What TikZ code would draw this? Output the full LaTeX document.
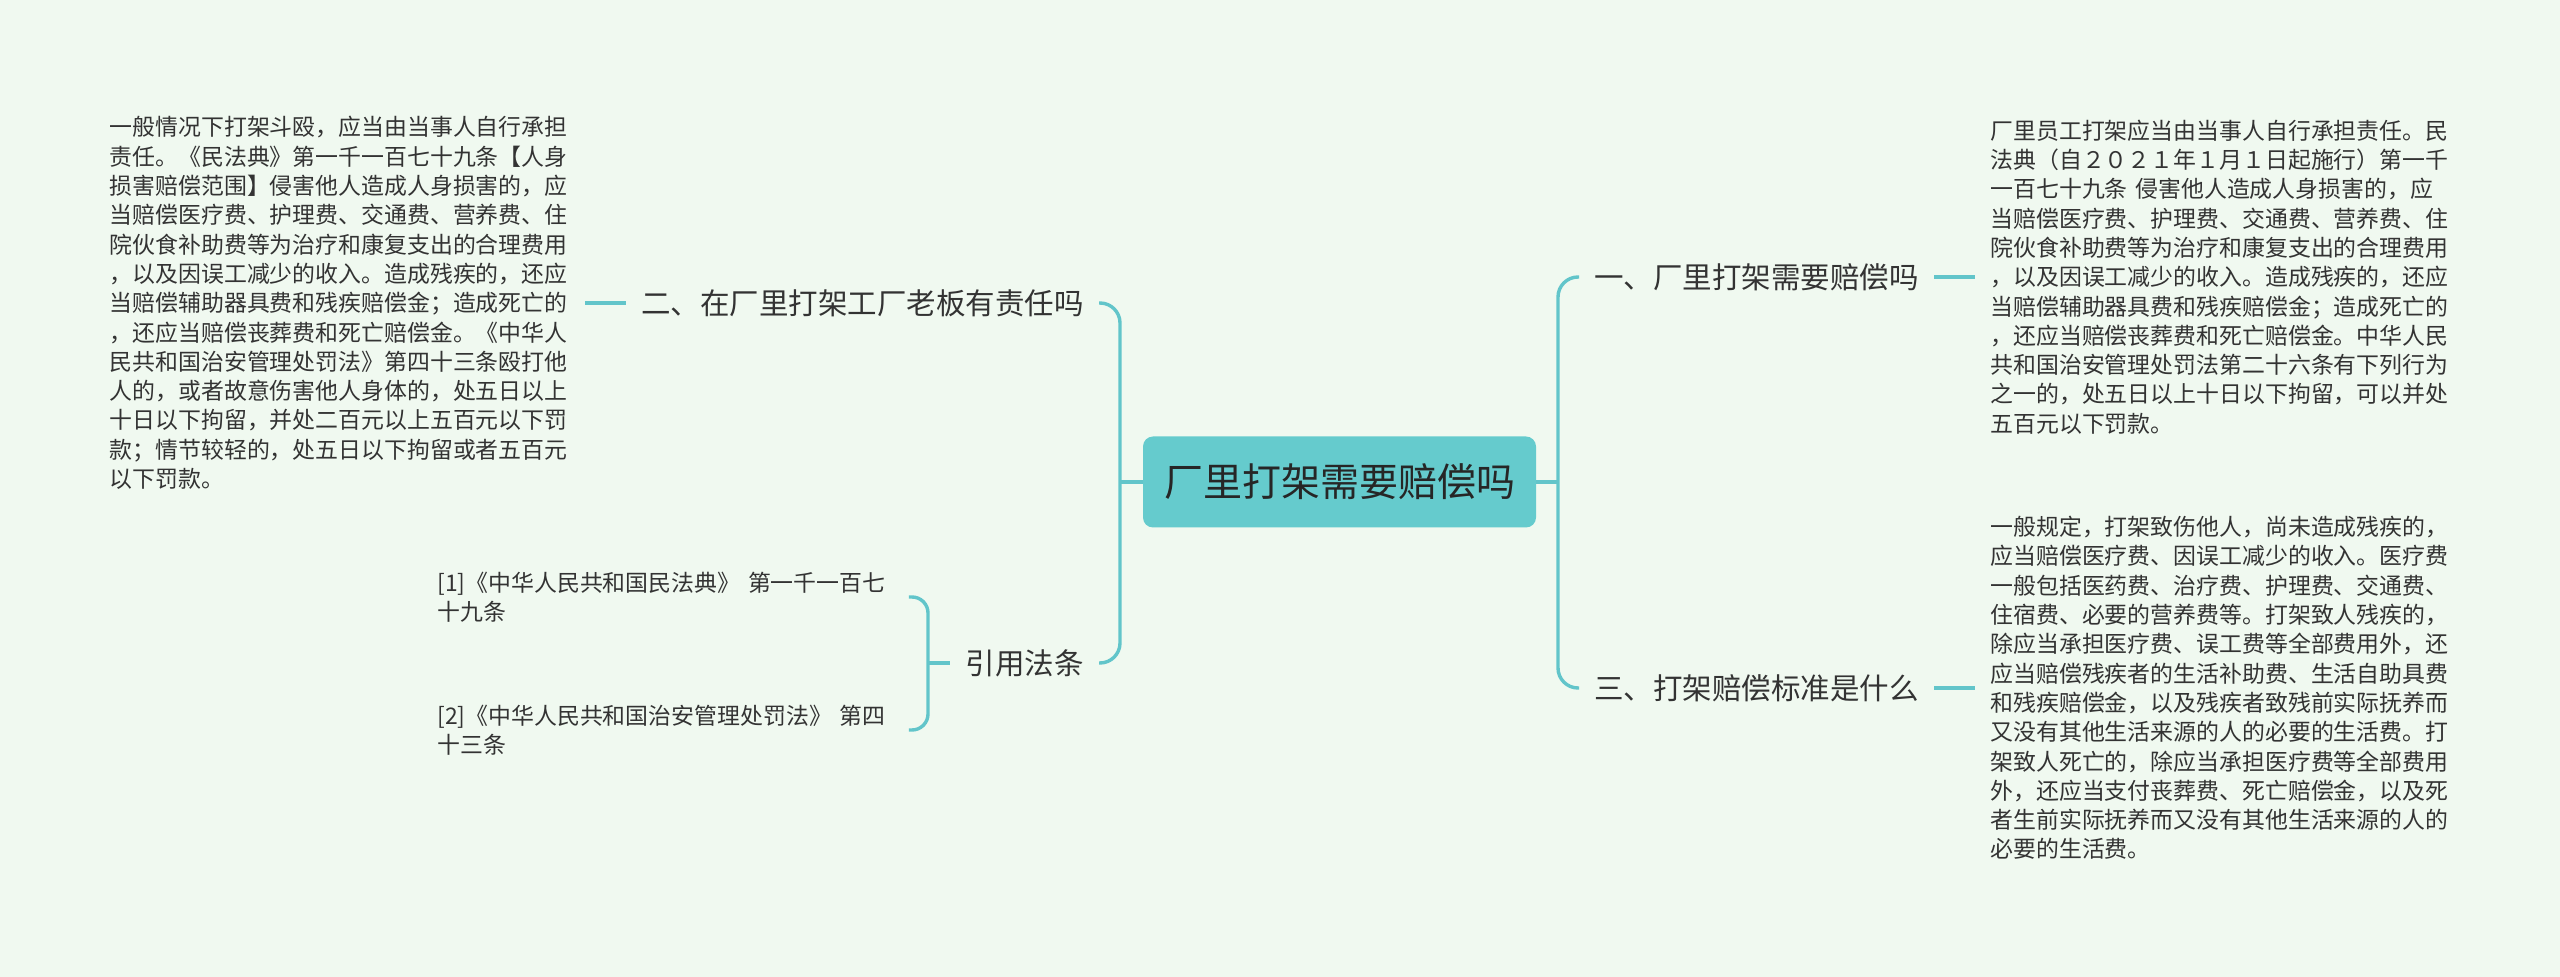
\documentclass[tikz,border=0pt]{standalone}
\usepackage{fontspec}
\setmainfont{Noto Sans CJK SC}
\usetikzlibrary{positioning}
\definecolor{bgmint}{HTML}{F0F9F0}
\definecolor{linkteal}{HTML}{62C5CA}
\definecolor{rootteal}{HTML}{65CBCD}
\colorlet{inktext}{black!80}

\tikzset{
  link/.style={draw=linkteal, line width=1.7pt},
  rootbox/.style={fill=rootteal, rounded corners=5pt, minimum width=196.5pt, minimum height=45.5pt,
    inner sep=0pt, text=black!85, font=\fontsize{19.5pt}{23pt}\selectfont},
  branch/.style={inner xsep=7.5pt, inner ysep=0pt, text=inktext, font=\fontsize{14.75pt}{18pt}\selectfont},
  leaf/.style={inner xsep=7.5pt, inner ysep=0pt, text=inktext, align=left, text width=230pt,
    font=\fontsize{11.45pt}{14.65pt}\selectfont},
}

\begin{document}
\begin{tikzpicture}[x=0.5pt, y=-0.5pt]
    \fill[bgmint] (0,0) rectangle (2560,977);
    \useasboundingbox (0,0) rectangle (2560,977);

    \node[rootbox] (root) at (1339.5, 482) {厂里打架需要赔偿吗};

    % right side
    \node[branch, anchor=west] (q1) at (1579, 277) {一、厂里打架需要赔偿吗};
    \node[branch, anchor=west] (q3) at (1579, 688) {三、打架赔偿标准是什么};
    \node[leaf, anchor=west] (a1) at (1975, 277) {厂里员工打架应当由当事人自行承担责任。民\\
      法典（自２０２１年１月１日起施行）第一千\\
      一百七十九条 侵害他人造成人身损害的，应\\
      当赔偿医疗费、护理费、交通费、营养费、住\\
      院伙食补助费等为治疗和康复支出的合理费用\\
      ，以及因误工减少的收入。造成残疾的，还应\\
      当赔偿辅助器具费和残疾赔偿金；造成死亡的\\
      ，还应当赔偿丧葬费和死亡赔偿金。中华人民\\
      共和国治安管理处罚法第二十六条有下列行为\\
      之一的，处五日以上十日以下拘留，可以并处\\
      五百元以下罚款。};
    \node[leaf, anchor=west] (a3) at (1975, 688) {一般规定，打架致伤他人，尚未造成残疾的，\\
      应当赔偿医疗费、因误工减少的收入。医疗费\\
      一般包括医药费、治疗费、护理费、交通费、\\
      住宿费、必要的营养费等。打架致人残疾的，\\
      除应当承担医疗费、误工费等全部费用外，还\\
      应当赔偿残疾者的生活补助费、生活自助具费\\
      和残疾赔偿金，以及残疾者致残前实际抚养而\\
      又没有其他生活来源的人的必要的生活费。打\\
      架致人死亡的，除应当承担医疗费等全部费用\\
      外，还应当支付丧葬费、死亡赔偿金，以及死\\
      者生前实际抚养而又没有其他生活来源的人的\\
      必要的生活费。};

    % left side
    \node[branch, anchor=east] (q2) at (1099, 303) {二、在厂里打架工厂老板有责任吗};
    \node[branch, anchor=east] (cite) at (1099, 663) {引用法条};
    \node[leaf, anchor=east] (a2) at (585, 303) {一般情况下打架斗殴，应当由当事人自行承担\\
      责任。《民法典》第一千一百七十九条【人身\\
      损害赔偿范围】侵害他人造成人身损害的，应\\
      当赔偿医疗费、护理费、交通费、营养费、住\\
      院伙食补助费等为治疗和康复支出的合理费用\\
      ，以及因误工减少的收入。造成残疾的，还应\\
      当赔偿辅助器具费和残疾赔偿金；造成死亡的\\
      ，还应当赔偿丧葬费和死亡赔偿金。《中华人\\
      民共和国治安管理处罚法》第四十三条殴打他\\
      人的，或者故意伤害他人身体的，处五日以上\\
      十日以下拘留，并处二百元以上五百元以下罚\\
      款；情节较轻的，处五日以下拘留或者五百元\\
      以下罚款。};
    \node[leaf, text width=228pt, anchor=west] (ref1) at (422, 597) {[1]《中华人民共和国民法典》 第一千一百七\\十九条};
    \node[leaf, text width=228pt, anchor=west] (ref2) at (422, 730) {[2]《中华人民共和国治安管理处罚法》 第四\\十三条};

    \coordinate (rj) at (1558, 482);
    \coordinate (lj) at (1120, 482);
    \coordinate (cj) at (928, 663);

    \draw[link] (root.east) -- (rj);
    \draw[link, rounded corners=10pt] (q1.west) -| (rj) |- (q3.west);
    \draw[link] (root.west) -- (lj);
    \draw[link, rounded corners=10pt] (q2.east) -| (lj) |- (cite.east);
    \draw[link] (q1.east) -- (a1.west);
    \draw[link] (q3.east) -- (a3.west);
    \draw[link] (a2.east) -- (q2.west);
    \draw[link, rounded corners=8pt] (ref1.east) -| (cj) |- (ref2.east);
    \draw[link] (cj) -- (cite.west);
\end{tikzpicture}
\end{document}
